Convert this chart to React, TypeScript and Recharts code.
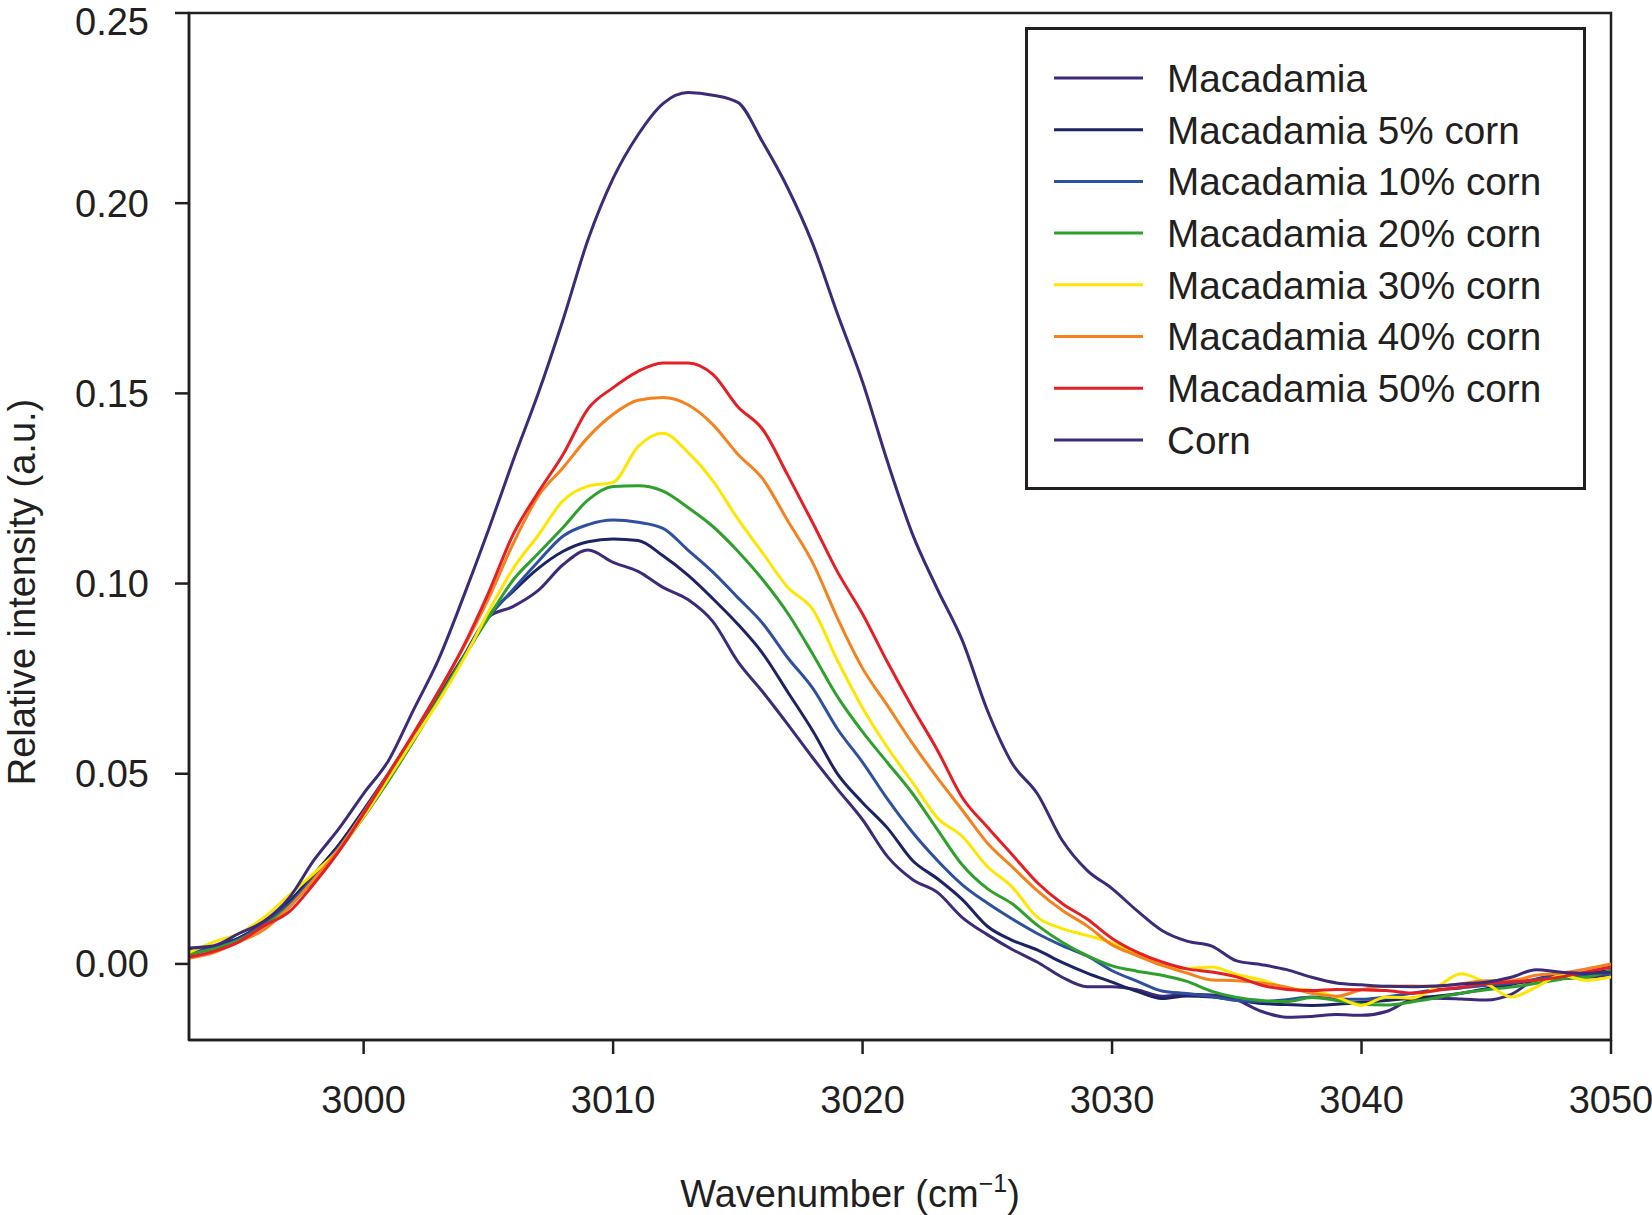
import React from "react";
import { LineChart, Line, XAxis, YAxis, ReferenceArea, Legend } from "recharts";

const WAVENUMBERS = [
  2993, 2994, 2995, 2996, 2997, 2998, 2999, 3000, 3001, 3002, 3003, 3004, 3005, 3006, 3007,
  3008, 3009, 3010, 3011, 3012, 3013, 3014, 3015, 3016, 3017, 3018, 3019, 3020, 3021, 3022,
  3023, 3024, 3025, 3026, 3027, 3028, 3029, 3030, 3031, 3032, 3033, 3034, 3035, 3036, 3037,
  3038, 3039, 3040, 3041, 3042, 3043, 3044, 3045, 3046, 3047, 3048, 3049, 3050,
];

const MACADAMIA = [
  0.0030, 0.0045, 0.0068, 0.0105, 0.0160, 0.0235, 0.0312, 0.0405, 0.0502, 0.0602, 0.0705, 0.0808, 0.0912, 0.0940, 0.0982,
  0.1050, 0.1088, 0.1056, 0.1032, 0.0990, 0.0958, 0.0900, 0.0795, 0.0715, 0.0630, 0.0542, 0.0459, 0.0379, 0.0282, 0.0222,
  0.0188, 0.0122, 0.0077, 0.0038, 0.0005, -0.0035, -0.0060, -0.0060, -0.0068, -0.0085, -0.0080, -0.0082, -0.0095, -0.0125, -0.0140,
  -0.0138, -0.0133, -0.0135, -0.0125, -0.0095, -0.0090, -0.0092, -0.0095, -0.0080, -0.0040, -0.0030, -0.0035, -0.0028,
];

const CORN_5 = [
  0.0035, 0.0045, 0.0068, 0.0108, 0.0162, 0.0235, 0.0312, 0.0402, 0.0498, 0.0598, 0.0700, 0.0805, 0.0915, 0.0980, 0.1040,
  0.1085, 0.1110, 0.1117, 0.1113, 0.1073, 0.1022, 0.0960, 0.0893, 0.0816, 0.0715, 0.0613, 0.0499, 0.0424, 0.0357, 0.0272,
  0.0224, 0.0169, 0.0099, 0.0062, 0.0037, 0.0004, -0.0024, -0.0048, -0.0072, -0.0091, -0.0084, -0.0087, -0.0095, -0.0104, -0.0107,
  -0.0109, -0.0106, -0.0101, -0.0096, -0.0090, -0.0085, -0.0077, -0.0065, -0.0054, -0.0042, -0.0035, -0.0026, -0.0017,
];

const CORN_10 = [
  0.0030, 0.0042, 0.0065, 0.0105, 0.0156, 0.0228, 0.0306, 0.0396, 0.0492, 0.0592, 0.0697, 0.0805, 0.0910, 0.0985, 0.1058,
  0.1125, 0.1155, 0.1167, 0.1161, 0.1145, 0.1088, 0.1030, 0.0963, 0.0895, 0.0805, 0.0725, 0.0617, 0.0530, 0.0433, 0.0346,
  0.0272, 0.0208, 0.0160, 0.0118, 0.0080, 0.0048, 0.0021, -0.0018, -0.0045, -0.0071, -0.0078, -0.0086, -0.0096, -0.0099, -0.0094,
  -0.0087, -0.0092, -0.0093, -0.0087, -0.0077, -0.0068, -0.0063, -0.0056, -0.0051, -0.0040, -0.0033, -0.0030, -0.0026,
];

const CORN_20 = [
  0.0025, 0.0040, 0.0062, 0.0100, 0.0150, 0.0220, 0.0298, 0.0386, 0.0482, 0.0586, 0.0695, 0.0805, 0.0910, 0.1010, 0.1079,
  0.1148, 0.1220, 0.1255, 0.1257, 0.1243, 0.1200, 0.1150, 0.1085, 0.1010, 0.0922, 0.0815, 0.0702, 0.0610, 0.0529, 0.0448,
  0.0353, 0.0260, 0.0198, 0.0158, 0.0102, 0.0057, 0.0022, -0.0005, -0.0019, -0.0030, -0.0046, -0.0072, -0.0088, -0.0096, -0.0099,
  -0.0088, -0.0096, -0.0106, -0.0108, -0.0100, -0.0089, -0.0077, -0.0068, -0.0061, -0.0051, -0.0040, -0.0035, -0.0017,
];

const CORN_30 = [
  0.0030, 0.0058, 0.0080, 0.0122, 0.0180, 0.0238, 0.0300, 0.0388, 0.0488, 0.0590, 0.0690, 0.0800, 0.0925, 0.1040, 0.1127,
  0.1218, 0.1256, 0.1266, 0.1360, 0.1395, 0.1345, 0.1270, 0.1170, 0.1080, 0.0990, 0.0932, 0.0797, 0.0673, 0.0569, 0.0477,
  0.0384, 0.0335, 0.0256, 0.0202, 0.0123, 0.0093, 0.0075, 0.0055, 0.0027, -0.0003, -0.0012, -0.0008, -0.0028, -0.0042, -0.0063,
  -0.0070, -0.0087, -0.0109, -0.0087, -0.0090, -0.0061, -0.0026, -0.0051, -0.0087, -0.0061, -0.0030, -0.0043, -0.0034,
];

const CORN_40 = [
  0.0015, 0.0030, 0.0058, 0.0090, 0.0148, 0.0222, 0.0302, 0.0398, 0.0500, 0.0605, 0.0715, 0.0832, 0.0960, 0.1106, 0.1230,
  0.1305, 0.1385, 0.1445, 0.1482, 0.1489, 0.1470, 0.1418, 0.1340, 0.1275, 0.1165, 0.1055, 0.0908, 0.0777, 0.0679, 0.0580,
  0.0489, 0.0404, 0.0318, 0.0255, 0.0193, 0.0141, 0.0100, 0.0050, 0.0022, -0.0004, -0.0024, -0.0042, -0.0044, -0.0050, -0.0061,
  -0.0077, -0.0085, -0.0068, -0.0059, -0.0058, -0.0059, -0.0052, -0.0044, -0.0044, -0.0030, -0.0024, -0.0013, 0.0000,
];

const CORN_50 = [
  0.0018, 0.0033, 0.0058, 0.0100, 0.0136, 0.0210, 0.0295, 0.0395, 0.0500, 0.0606, 0.0716, 0.0835, 0.0975, 0.1130, 0.1240,
  0.1340, 0.1460, 0.1515, 0.1558, 0.1580, 0.1580, 0.1550, 0.1465, 0.1405, 0.1285, 0.1160, 0.1030, 0.0920, 0.0793, 0.0674,
  0.0562, 0.0437, 0.0360, 0.0287, 0.0214, 0.0159, 0.0118, 0.0067, 0.0031, 0.0005, -0.0013, -0.0021, -0.0034, -0.0056, -0.0067,
  -0.0070, -0.0067, -0.0068, -0.0070, -0.0077, -0.0070, -0.0061, -0.0052, -0.0047, -0.0043, -0.0034, -0.0021, -0.0008,
];

const CORN = [
  0.0042, 0.0048, 0.0080, 0.0112, 0.0172, 0.0272, 0.0355, 0.0448, 0.0535, 0.0668, 0.0800, 0.0965, 0.1140, 0.1325, 0.1500,
  0.1695, 0.1905, 0.2065, 0.2180, 0.2262, 0.2291, 0.2284, 0.2265, 0.2160, 0.2040, 0.1893, 0.1708, 0.1530, 0.1320, 0.1130,
  0.0985, 0.0850, 0.0667, 0.0527, 0.0448, 0.0325, 0.0246, 0.0198, 0.0140, 0.0088, 0.0060, 0.0047, 0.0008, -0.0002, -0.0015,
  -0.0035, -0.0050, -0.0055, -0.0059, -0.0060, -0.0058, -0.0053, -0.0048, -0.0035, -0.0015, -0.0022, -0.0025, -0.0022,
];

const SERIES_NAMES = [
  "Macadamia",
  "Macadamia 5% corn",
  "Macadamia 10% corn",
  "Macadamia 20% corn",
  "Macadamia 30% corn",
  "Macadamia 40% corn",
  "Macadamia 50% corn",
  "Corn",
];
const SERIES_VALUES = [MACADAMIA, CORN_5, CORN_10, CORN_20, CORN_30, CORN_40, CORN_50, CORN];
const SERIES_COLORS = ["#3d2a78", "#1c2463", "#2e509f", "#2ea02c", "#ffe600", "#f5821f", "#e41f26", "#3d2a78"];

const X_TICKS = [3000, 3010, 3020, 3030, 3040, 3050];
const Y_TICKS = [0, 0.05, 0.1, 0.15, 0.2, 0.25];

const KEYS = SERIES_NAMES.map((_, i) => `s${i}`);
const data = WAVENUMBERS.map((wn, i) => {
  const row: Record<string, number> = { wn };
  SERIES_VALUES.forEach((arr, s) => {
    row[KEYS[s]] = arr[i];
  });
  return row;
});

const FONT = "'Liberation Sans', Arial, Helvetica, sans-serif";
const INK = "#231f20";

const renderLegend = (props: any) => {
  const payload = [...(props.payload || [])].sort(
    (a: any, b: any) => SERIES_NAMES.indexOf(a.value) - SERIES_NAMES.indexOf(b.value)
  );
  const W = 561;
  const H = 463;
  return (
    <svg width={W} height={H} style={{ display: "block" }}>
      <rect x={1.5} y={1.5} width={W - 3} height={H - 3} fill="#fff" stroke={INK} strokeWidth={3} />
      {payload.map((item: any, i: number) => {
        const cy = 51 + i * 51.7;
        return (
          <g key={i}>
            <line x1={29} x2={118} y1={cy} y2={cy} stroke={item.color} strokeWidth={3} />
            <text x={142} y={cy} dy="0.36em" fontSize={38.7} fontFamily={FONT} fill={INK}>
              {item.value}
            </text>
          </g>
        );
      })}
    </svg>
  );
};

export default function App() {
  return (
    <div style={{ position: "absolute", left: 0, top: 0, width: 1652, height: 1215, background: "#fff" }}>
      <LineChart
        width={1652}
        height={1215}
        data={data}
        margin={{ top: 13, right: 41, bottom: 0, left: 0 }}
      >
        <XAxis
          dataKey="wn"
          type="number"
          domain={[2993, 3050]}
          ticks={X_TICKS}
          allowDataOverflow
          height={175}
          tickSize={14}
          tickMargin={32}
          stroke={INK}
          strokeWidth={2.5}
          tick={{ fontSize: 38, fill: INK, fontFamily: FONT }}
        />
        <YAxis
          type="number"
          domain={[-0.02, 0.25]}
          ticks={Y_TICKS}
          allowDataOverflow
          width={189}
          tickSize={14}
          tickMargin={26}
          stroke={INK}
          strokeWidth={2.5}
          tickFormatter={(v: number) => v.toFixed(2)}
          tick={{ fontSize: 38, fill: INK, fontFamily: FONT }}
        />
        <ReferenceArea
          x1={2993}
          x2={3050}
          y1={-0.02}
          y2={0.25}
          fill="none"
          fillOpacity={0}
          stroke={INK}
          strokeWidth={2.5}
          ifOverflow="visible"
        />
        {SERIES_NAMES.map((name, i) => (
          <Line
            key={KEYS[i]}
            dataKey={KEYS[i]}
            name={name}
            type="monotone"
            stroke={SERIES_COLORS[i]}
            strokeWidth={3}
            dot={false}
            activeDot={false}
            isAnimationActive={false}
          />
        ))}
        <Legend
          layout="vertical"
          align="center"
          verticalAlign="middle"
          itemSorter={null as any}
          content={renderLegend}
          wrapperStyle={{ position: "absolute", left: 1025, top: 27, width: 561, height: 463 }}
        />
      </LineChart>
      <svg
        width={1652}
        height={1215}
        style={{ position: "absolute", left: 0, top: 0, pointerEvents: "none" }}
      >
        <text
          transform="translate(35,592) rotate(-90)"
          textAnchor="middle"
          fontSize={38}
          fontFamily={FONT}
          fill={INK}
        >
          Relative intensity (a.u.)
        </text>
        <text x={850} y={1207} textAnchor="middle" fontSize={38} fontFamily={FONT} fill={INK}>
          Wavenumber (cm
          <tspan fontSize={25} dy={-15}>−1</tspan>
          <tspan dy={15}>)</tspan>
        </text>
      </svg>
    </div>
  );
}
